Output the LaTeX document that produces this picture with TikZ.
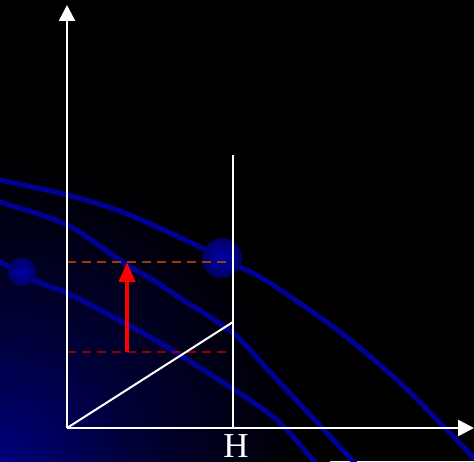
\documentclass[tikz,border=0pt]{standalone}
\usepackage{fontspec}
\setmainfont{Liberation Serif}
\usetikzlibrary{arrows.meta}
\definecolor{curveblue}{RGB}{0,0,150}
\definecolor{ballblue}{RGB}{0,0,170}
\definecolor{balldark}{RGB}{0,0,100}
\definecolor{dashorange}{RGB}{160,60,0}
\definecolor{dashred}{RGB}{140,0,0}
\definecolor{bgblue}{RGB}{0,0,125}
\definecolor{bgmid}{RGB}{0,0,55}
\pgfdeclareradialshading{bgshade}{\pgfpoint{0bp}{0bp}}{color(0bp)=(bgblue); color(10bp)=(bgmid); color(23bp)=(black); color(50bp)=(black)}
\tikzset{
  axis/.style={draw=white, line width=2.5pt, -{Triangle[length=16pt,width=16pt]}},
  thinwhite/.style={draw=white, line width=2pt},
  curve/.style={draw=curveblue, line width=5pt},
  ball/.style={shading=radial, inner color=ballblue, outer color=balldark},
  guide/.style={line width=2pt, dash pattern=on 9pt off 6pt},
}
\begin{document}
\begin{tikzpicture}[x=1pt,y=1pt]
\useasboundingbox (0,0) rectangle (474,461);
\fill[black] (0,0) rectangle (474,461);
\begin{scope}
  \clip (0,0) rectangle (474,461);
  \shade[shading=bgshade] (0,0) circle (330);
  % curves
  \draw[curve] plot[smooth, tension=0.5] coordinates {(-5,282) (0,281) (67,266) (125,248) (200,214) (240,194) (270,178) (340,129) (397,81) (447,31) (474,3) (480,-3)};
  \draw[curve] plot[smooth, tension=0.5] coordinates {(-5,261) (0,259) (67,236) (127,196) (150,183) (180,163) (233,128) (270,89) (327,28) (353,0) (358,-5)};
  \draw[curve] plot[smooth, tension=0.5] coordinates {(-5,201) (0,199) (33,181) (67,168) (100,151) (150,124) (183,104) (233,72) (277,41) (313,1) (317,-5)};
  % balls
  \shade[ball] (222,203) circle (20);
  \shade[ball] (22,189) circle (14);
\end{scope}
% named points
\coordinate (O) at (67,33);
\coordinate (Ytop) at (67,456);
\coordinate (Xend) at (474,33);
\coordinate (Hbase) at (233,33);
\coordinate (Htop) at (233,306);
\coordinate (D) at (233,139);
\coordinate (U1) at (67,199);
\coordinate (U2) at (233,199);
\coordinate (L1) at (67,109);
\coordinate (L2) at (229,109);
\coordinate (A1) at (127,109);
\coordinate (A2) at (127,199);
% guides
\draw[guide, draw=dashorange] (U1) -- (U2);
\draw[guide, draw=dashred] (L1) -- (L2);
% lines
\draw[thinwhite] (Hbase) -- (Htop);
\draw[thinwhite] (O) -- (D);
\draw[axis] (O) -- (Ytop);
\draw[axis] (O) -- (Xend);
% red arrow
\draw[draw=red, line width=4.5pt, -{Triangle[length=20pt,width=16pt]}] (A1) -- (A2);
\node[text=white, font=\fontsize{35}{35}\selectfont, inner sep=0pt, anchor=base] (H) at (236,4) {H};
\end{tikzpicture}
\end{document}
